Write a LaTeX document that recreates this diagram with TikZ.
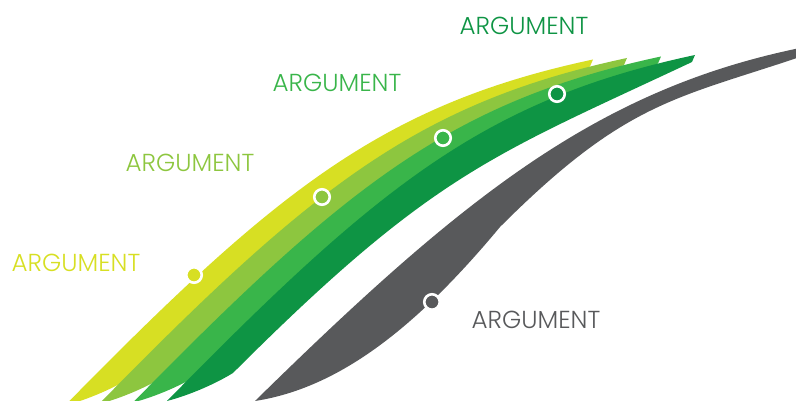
\documentclass[tikz,border=0pt]{standalone}
\usepackage{fontspec}
\setmainfont{Poppins}[UprightFont=* Light]
\definecolor{argyellow}{HTML}{D7DF23}
\definecolor{arglime}{HTML}{8DC63F}
\definecolor{arggreen}{HTML}{39B54A}
\definecolor{argdark}{HTML}{0E9444}
\definecolor{arggray}{HTML}{58595B}
\tikzset{
  arglabel/.style={font=\fontsize{14}{16}\selectfont, inner sep=0pt},
  argdot/.style={circle, draw=white, line width=1.5pt, minimum size=0.31cm, inner sep=0pt},
}

\begin{document}
\begin{tikzpicture}[x=0.02cm, y=-0.02cm]
    \useasboundingbox (0,0) rectangle (796,401);

    % green bands, back to front
    \foreach \k/\c in {3/argyellow, 2/arglime, 1/arggreen, 0/argdark}
        \fill[\c, shift={(-34*\k,1.5*\k)}]
            (167,401) .. controls (378,186) and (484,100) .. (695,55)
            -- (692,62)
            .. controls (492,156) and (433,173) .. (233,373)
            .. controls (215,384) and (190,395) .. (167,401) -- cycle;

    % grey band
    \fill[arggray]
        (255,401) .. controls (460,200) and (595,90) .. (800,48)
        -- (800,57)
        .. controls (675,99) and (625,102) .. (500,227)
        .. controls (416,328) and (339,388) .. (255,401) -- cycle;

    \node[argdot, fill=argyellow] (dot1) at (194,275) {};
    \node[argdot, fill=arglime] (dot2) at (322,197) {};
    \node[argdot, fill=arggreen] (dot3) at (443,138) {};
    \node[argdot, fill=argdark] (dot4) at (557,94) {};
    \node[argdot, fill=arggray] (dot5) at (432,302) {};

    \node[arglabel, text=argyellow] (lab1) at (76,263) {ARGUMENT};
    \node[arglabel, text=arglime] (lab2) at (190,163) {ARGUMENT};
    \node[arglabel, text=arggreen] (lab3) at (337,83) {ARGUMENT};
    \node[arglabel, text=argdark] (lab4) at (524,26) {ARGUMENT};
    \node[arglabel, text=arggray] (lab5) at (536,320) {ARGUMENT};
\end{tikzpicture}
\end{document}
